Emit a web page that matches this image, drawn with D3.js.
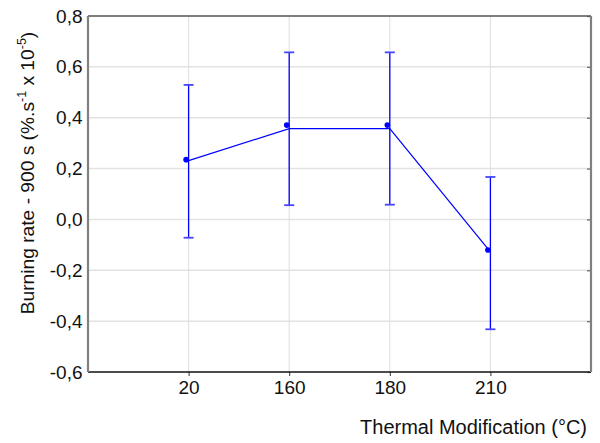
<!DOCTYPE html>
<html>
<head>
<meta charset="utf-8">
<script src="https://cdn.jsdelivr.net/npm/d3@7"></script>
<style>
  html, body { margin: 0; padding: 0; background: #fff; }
  svg { display: block; font-family: "Liberation Sans", Arial, sans-serif; }
</style>
</head>
<body>
<svg id="chart" width="600" height="443"></svg>
<script>
// Burning rate after 900 s by thermal modification temperature
const categories = ["20", "160", "180", "210"];
const pointValues = [0.235, 0.371, 0.371, -0.120];   // plotted markers
const lineValues = [0.231, 0.357, 0.357, -0.128];    // connecting line (bar centres)
const upperValues = [0.529, 0.657, 0.657, 0.167];    // error bar tops
const lowerValues = [-0.072, 0.056, 0.058, -0.432];  // error bar bottoms
const yTicks = [-0.6, -0.4, -0.2, 0.0, 0.2, 0.4, 0.6, 0.8];

const W = 600, H = 443;
const m = { left: 88, right: 9, top: 16, bottom: 71 };
const svg = d3.select("#chart");

const x = d3.scalePoint().domain(categories).range([m.left, W - m.right]).padding(1);
const y = d3.scaleLinear().domain([-0.6, 0.8]).range([H - m.bottom, m.top]);

const locale = d3.formatLocale({ decimal: ",", thousands: ".", grouping: [3], currency: ["", ""], minus: "-" });
const fmt = locale.format(".1f");

const blue = "#0000ff";

// grid
svg.append("g").selectAll("line").data(yTicks.slice(1, -1)).join("line")
  .attr("x1", m.left).attr("x2", W - m.right)
  .attr("y1", d => y(d)).attr("y2", d => y(d))
  .attr("stroke", "#e2e2e2").attr("stroke-width", 1.5);
svg.append("g").selectAll("line").data(categories).join("line")
  .attr("x1", d => x(d)).attr("x2", d => x(d))
  .attr("y1", m.top).attr("y2", H - m.bottom)
  .attr("stroke", "#dedede").attr("stroke-width", 1);

// left axis
const yAxis = svg.append("g").attr("transform", `translate(${m.left},0)`)
  .call(d3.axisLeft(y).tickValues(yTicks).tickFormat(fmt).tickSize(0).tickPadding(5.5));
yAxis.select(".domain").remove();
yAxis.selectAll("text").attr("font-size", 19).attr("fill", "#111")
  .attr("font-family", "Liberation Sans, Arial, sans-serif");

// right axis ticks (inward)
const yRight = svg.append("g").attr("transform", `translate(${W - m.right},0)`)
  .call(d3.axisRight(y).tickValues(yTicks).tickSize(-4).tickFormat(""));
yRight.select(".domain").remove();
yRight.selectAll("line").attr("stroke", "#666").attr("stroke-width", 1.2);

// bottom axis
const xAxis = svg.append("g").attr("transform", `translate(0,${H - m.bottom})`)
  .call(d3.axisBottom(x).tickSize(4).tickPadding(5));
xAxis.select(".domain").remove();
xAxis.selectAll("line").attr("stroke", "#333");
xAxis.selectAll("text").attr("font-size", 19).attr("fill", "#111")
  .attr("font-family", "Liberation Sans, Arial, sans-serif");

// frame
const frame = svg.append("g").attr("fill", "none");
frame.append("line").attr("x1", m.left).attr("x2", W - m.right).attr("y1", m.top).attr("y2", m.top)
  .attr("stroke", "#555").attr("stroke-width", 1.5);
frame.append("line").attr("x1", m.left).attr("x2", W - m.right).attr("y1", H - m.bottom).attr("y2", H - m.bottom)
  .attr("stroke", "#111").attr("stroke-width", 1.5);
frame.append("line").attr("x1", m.left).attr("x2", m.left).attr("y1", m.top).attr("y2", H - m.bottom)
  .attr("stroke", "#808080").attr("stroke-width", 2.2);
frame.append("line").attr("x1", W - m.right).attr("x2", W - m.right).attr("y1", m.top).attr("y2", H - m.bottom)
  .attr("stroke", "#808080").attr("stroke-width", 2.2);

// data
const rows = categories.map((c, i) => ({
  c, p: pointValues[i], l: lineValues[i], hi: upperValues[i], lo: lowerValues[i]
}));

const bars = svg.append("g");
bars.selectAll("line.v").data(rows).join("line").attr("class", "v")
  .attr("x1", d => x(d.c)).attr("x2", d => x(d.c))
  .attr("y1", d => y(d.hi)).attr("y2", d => y(d.lo))
  .attr("stroke", blue).attr("stroke-width", 1.3);
const capW = 5;
["hi", "lo"].forEach(k => {
  bars.selectAll("line.cap-" + k).data(rows).join("line").attr("class", "cap-" + k)
    .attr("x1", d => x(d.c) - capW).attr("x2", d => x(d.c) + capW)
    .attr("y1", d => y(d[k])).attr("y2", d => y(d[k]))
    .attr("stroke", "#4646ff").attr("stroke-width", 1.8);
});

svg.append("path").datum(rows)
  .attr("fill", "none").attr("stroke", blue).attr("stroke-width", 1.2)
  .attr("d", d3.line().x(d => x(d.c)).y(d => y(d.l)));

svg.append("g").selectAll("circle").data(rows).join("circle")
  .attr("cx", d => x(d.c) - 2.5).attr("cy", d => y(d.p)).attr("r", 2.8)
  .attr("fill", blue);

// axis titles
svg.append("text")
  .attr("x", 587).attr("y", 434).attr("text-anchor", "end")
  .attr("font-size", 20).attr("fill", "#111")
  .text("Thermal Modification (°C)");

const yt = svg.append("text")
  .attr("transform", `translate(34,${(m.top + H - m.bottom) / 2 - 21}) rotate(-90)`)
  .attr("text-anchor", "middle").attr("font-size", 19.2).attr("fill", "#111");
yt.append("tspan").text("Burning rate - 900 s (%.s");
yt.append("tspan").attr("font-size", 12.5).attr("dy", -8).text("-1");
yt.append("tspan").attr("dy", 8).text(" x 10");
yt.append("tspan").attr("font-size", 12.5).attr("dy", -8).text("-5");
yt.append("tspan").attr("dy", 8).text(")");
</script>
</body>
</html>
